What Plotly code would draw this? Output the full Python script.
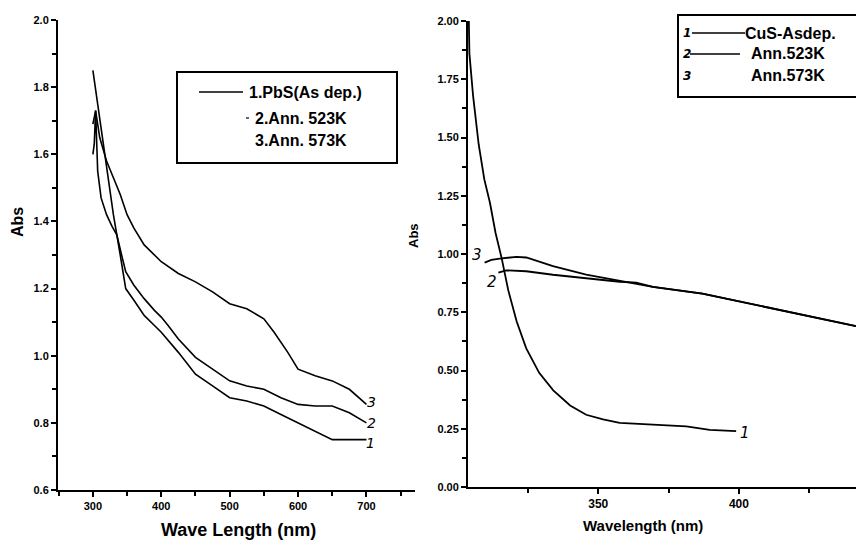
import plotly.graph_objects as go

# ---------------- data: left panel (PbS) ----------------
pbs_wl = [300, 305, 310, 320, 330, 340, 348, 360, 375, 390, 400, 425, 450, 475,
          500, 525, 550, 575, 600, 625, 650, 675, 700]
pbs_abs = [1.85, 1.78, 1.70, 1.56, 1.42, 1.30, 1.20, 1.165, 1.12, 1.09, 1.07, 1.01,
           0.945, 0.91, 0.875, 0.865, 0.85, 0.825, 0.80, 0.775, 0.75, 0.75, 0.75]

ann523_wl = [300, 302, 304, 307, 312, 320, 328, 335, 342, 348, 360, 375, 390, 400,
             410, 425, 450, 475, 500, 525, 550, 575, 600, 625, 650, 675, 700]
ann523_abs = [1.60, 1.63, 1.73, 1.55, 1.47, 1.42, 1.385, 1.36, 1.30, 1.25, 1.21, 1.17,
              1.135, 1.115, 1.09, 1.05, 0.995, 0.96, 0.925, 0.91, 0.90, 0.875, 0.855,
              0.85, 0.85, 0.83, 0.80]

ann573_wl = [300, 304, 310, 320, 330, 340, 350, 360, 375, 400, 425, 450, 475, 500,
             525, 550, 565, 585, 600, 625, 650, 675, 700]
ann573_abs = [1.69, 1.73, 1.65, 1.58, 1.53, 1.48, 1.42, 1.38, 1.33, 1.28, 1.245, 1.22,
              1.19, 1.155, 1.14, 1.11, 1.07, 1.01, 0.96, 0.94, 0.925, 0.90, 0.855]

left_xticks = [300, 400, 500, 600, 700]
left_xminor = [250, 350, 450, 550, 650, 750]
left_yticks = [0.6, 0.8, 1.0, 1.2, 1.4, 1.6, 1.8, 2.0]
left_yticktext = ["0.6", "0.8", "1.0", "1.2", "1.4", "1.6", "1.8", "2.0"]
left_yminor = [0.7, 0.9, 1.1, 1.3, 1.5, 1.7, 1.9]
left_legend = ["1.PbS(As dep.)", "2.Ann. 523K", "3.Ann. 573K"]

# ---------------- data: right panel (CuS) ----------------
cus_wl = [304, 304.2, 305.5, 307.5, 309.5, 311.5, 313.5, 315.7, 318, 321, 324.4,
          329, 334, 340, 345.7, 351.7, 357.6, 369.4, 381.3, 389.6, 399]
cus_abs = [2.0, 1.86, 1.68, 1.47, 1.32, 1.22, 1.09, 0.98, 0.845, 0.71, 0.595,
           0.49, 0.415, 0.35, 0.31, 0.29, 0.275, 0.267, 0.26, 0.245, 0.24]

cus523_wl = [314.5, 317.3, 324.4, 333.9, 345.7, 357.6, 363.5, 369.4, 387, 404.6, 422.4, 441.6]
cus523_abs = [0.92, 0.93, 0.926, 0.911, 0.896, 0.881, 0.877, 0.859, 0.83, 0.785, 0.741, 0.69]

cus573_wl = [309.6, 312, 315, 320.9, 324.4, 333.9, 345.7, 360, 369.4, 387, 404.6, 422.4, 441.6]
cus573_abs = [0.963, 0.975, 0.98, 0.988, 0.985, 0.948, 0.911, 0.881, 0.859, 0.83, 0.785, 0.741, 0.69]

right_xticks = [350, 400]
right_xminor = [325, 375, 425]
right_yticks = [0.0, 0.25, 0.5, 0.75, 1.0, 1.25, 1.5, 1.75, 2.0]
right_yticktext = ["0.00", "0.25", "0.50", "0.75", "1.00", "1.25", "1.50", "1.75", "2.00"]
right_yminor = [0.125, 0.375, 0.625, 0.875, 1.125, 1.375, 1.625, 1.875]
right_legend = ["CuS-Asdep.", "Ann.523K", "Ann.573K"]

W, H = 856, 546
FONT = "Liberation Sans, Arial, sans-serif"


def px(x):
    return x / W


def py(y):
    return 1 - y / H


fig = go.Figure()
line_style = dict(color="black", width=1.6)
for xs, ys in [(pbs_wl, pbs_abs), (ann523_wl, ann523_abs), (ann573_wl, ann573_abs)]:
    fig.add_trace(go.Scatter(x=xs, y=ys, mode="lines", line=line_style,
                             xaxis="x", yaxis="y", showlegend=False, hoverinfo="skip"))
for xs, ys in [(cus_wl, cus_abs), (cus523_wl, cus523_abs), (cus573_wl, cus573_abs)]:
    fig.add_trace(go.Scatter(x=xs, y=ys, mode="lines", line=dict(color="black", width=1.8),
                             xaxis="x2", yaxis="y2", showlegend=False, hoverinfo="skip"))

axis_common = dict(showline=True, linecolor="black", linewidth=2, ticks="outside",
                   tickcolor="black", tickwidth=2, ticklen=5, showgrid=False,
                   zeroline=False, mirror=False, automargin=False)

fig.update_layout(
    width=W, height=H,
    margin=dict(l=0, r=0, t=0, b=0),
    paper_bgcolor="white", plot_bgcolor="white",
    showlegend=False,
    xaxis=dict(domain=[px(58), px(415)], range=[249, 771], anchor="y",
               tickvals=left_xticks,
               minor=dict(tickvals=left_xminor, ticks="outside", ticklen=4,
                          tickwidth=1.5, tickcolor="black"),
               tickfont=dict(family=FONT, size=11, color="black", weight="bold"),
               **axis_common),
    yaxis=dict(domain=[py(490), py(20)], range=[0.6, 2.0], anchor="x",
               tickvals=left_yticks, ticktext=left_yticktext,
               minor=dict(tickvals=left_yminor, ticks="outside", ticklen=4,
                          tickwidth=1.5, tickcolor="black"),
               tickfont=dict(family=FONT, size=11, color="black", weight="bold"),
               **axis_common),
    xaxis2=dict(domain=[px(468), 1.0], range=[303.7, 441.6], anchor="y2",
                tickvals=right_xticks,
                minor=dict(tickvals=right_xminor, ticks="outside", ticklen=4,
                           tickwidth=1.5, tickcolor="black"),
                tickfont=dict(family=FONT, size=12, color="black", weight="bold"),
                **axis_common),
    yaxis2=dict(domain=[py(487), py(21)], range=[0, 2.0], anchor="x2",
                tickvals=right_yticks, ticktext=right_yticktext,
                minor=dict(tickvals=right_yminor, ticks="outside", ticklen=4,
                           tickwidth=1.5, tickcolor="black"),
                tickfont=dict(family=FONT, size=11, color="black", weight="bold"),
                **axis_common),
)

ann = []
# axis titles
ann.append(dict(text="<b>Wave Length (nm)</b>", x=px(238), y=py(530), xref="paper", yref="paper",
                showarrow=False, font=dict(family=FONT, size=18, color="black"),
                xanchor="center", yanchor="middle"))
ann.append(dict(text="<b>Abs</b>", x=px(17), y=py(222), xref="paper", yref="paper",
                showarrow=False, textangle=-90, font=dict(family=FONT, size=16, color="black"),
                xanchor="center", yanchor="middle"))
ann.append(dict(text="<b>Wavelength (nm)</b>", x=px(643), y=py(525), xref="paper", yref="paper",
                showarrow=False, font=dict(family=FONT, size=15, color="black"),
                xanchor="center", yanchor="middle"))
ann.append(dict(text="<b>Abs</b>", x=px(413), y=py(236), xref="paper", yref="paper",
                showarrow=False, textangle=-90, font=dict(family=FONT, size=13, color="black"),
                xanchor="center", yanchor="middle"))

# left legend texts
for txt, x, y in zip(left_legend, [247, 252.7, 252.7], [92, 118, 141]):
    ann.append(dict(text="<b>%s</b>" % txt, x=px(x), y=py(y), xref="paper", yref="paper",
                    showarrow=False, font=dict(family=FONT, size=16, color="black"),
                    xanchor="left", yanchor="middle"))
# right legend texts
for txt, x, y in zip(right_legend, [743, 749, 749], [33, 54, 76]):
    ann.append(dict(text="<b>%s</b>" % txt, x=px(x), y=py(y), xref="paper", yref="paper",
                    showarrow=False, font=dict(family=FONT, size=16, color="black"),
                    xanchor="left", yanchor="middle"))
# handwritten labels in right legend
for txt, y in zip(["1", "2", "3"], [33, 54, 76]):
    ann.append(dict(text="<i><b>%s</b></i>" % txt, x=px(687), y=py(y), xref="paper", yref="paper",
                    showarrow=False, font=dict(family="DejaVu Sans", size=12, color="black"),
                    xanchor="center", yanchor="middle"))
# handwritten curve labels (data coords)
for txt, x, y in zip(["3", "2", "1"], [708, 708, 706], [0.862, 0.80, 0.740]):
    ann.append(dict(text="<i>%s</i>" % txt, x=x, y=y, xref="x", yref="y", showarrow=False,
                    font=dict(family="DejaVu Sans", size=14, color="black"),
                    xanchor="center", yanchor="middle"))
for txt, x, y in zip(["3", "2", "1"], [306.9, 312.3, 402], [0.995, 0.881, 0.23]):
    ann.append(dict(text="<i>%s</i>" % txt, x=x, y=y, xref="x2", yref="y2", showarrow=False,
                    font=dict(family="DejaVu Sans", size=15, color="black"),
                    xanchor="center", yanchor="middle"))
fig.update_layout(annotations=ann)

shapes = []
# left legend box and sample line
shapes.append(dict(type="rect", xref="paper", yref="paper", x0=px(177), x1=px(397),
                   y0=py(163), y1=py(72), line=dict(color="black", width=2)))
shapes.append(dict(type="line", xref="paper", yref="paper", x0=px(199), x1=px(243),
                   y0=py(92), y1=py(92), line=dict(color="black", width=1.5)))
shapes.append(dict(type="line", xref="paper", yref="paper", x0=px(246), x1=px(249),
                   y0=py(118), y1=py(118), line=dict(color="black", width=1.2)))
# right legend box and sample lines
shapes.append(dict(type="rect", xref="paper", yref="paper", x0=px(678), x1=1.02,
                   y0=py(97), y1=py(15), line=dict(color="black", width=2)))
shapes.append(dict(type="line", xref="paper", yref="paper", x0=px(692), x1=px(745),
                   y0=py(33), y1=py(33), line=dict(color="black", width=1.5)))
shapes.append(dict(type="line", xref="paper", yref="paper", x0=px(690), x1=px(740),
                   y0=py(54), y1=py(54), line=dict(color="black", width=1.5)))
fig.update_layout(shapes=shapes)

fig.write_html(
    "out.html",
    config={"displayModeBar": False},
    post_script="document.body.style.margin='0px';document.body.style.overflow='hidden';",
)
